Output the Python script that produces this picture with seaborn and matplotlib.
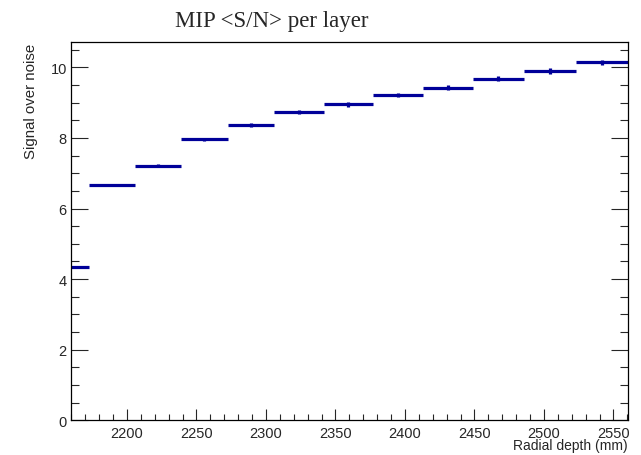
import numpy as np
import matplotlib
matplotlib.use("Agg")
from matplotlib import pyplot as plt
from matplotlib.ticker import MultipleLocator
import seaborn as sns

# layer bin edges (mm) and mean S/N per layer
bin_edges = [2160, 2173, 2205.5, 2238.7, 2272.5, 2306, 2341.6, 2377, 2413, 2449, 2485.6, 2523.2, 2560.4]
sn_values = [4.35, 6.67, 7.21, 7.96, 8.37, 8.73, 8.95, 9.21, 9.42, 9.68, 9.89, 10.14]
sn_errors = [0.03, 0.03, 0.04, 0.05, 0.05, 0.06, 0.06, 0.06, 0.07, 0.07, 0.08, 0.08]

sns.set_style("ticks")
plt.rcParams['font.family'] = ['Liberation Sans', 'DejaVu Sans']

fig = plt.figure(figsize=(6.41, 4.56), dpi=100)
ax = fig.add_axes([71/641, 1 - 421.3/456, (628 - 71)/641, (421.3 - 43.3)/456])

lo = np.array(bin_edges[:-1])
hi = np.array(bin_edges[1:])
centers = (lo + hi) / 2
blue = "#000099"
ax.hlines(sn_values, lo, hi, color=blue, linewidth=2.3)
ax.errorbar(centers, sn_values, yerr=sn_errors, fmt='none', ecolor=blue, elinewidth=2.3, capsize=0)

ax.set_xlim(2159.7, 2560.5)
ax.set_ylim(0, 10.71)

ax.xaxis.set_major_locator(MultipleLocator(50))
ax.xaxis.set_minor_locator(MultipleLocator(10))
ax.yaxis.set_major_locator(MultipleLocator(2))
ax.yaxis.set_minor_locator(MultipleLocator(0.5))

for s in ax.spines.values():
    s.set_linewidth(0.9)
    s.set_color("black")

ax.tick_params(axis='x', which='major', direction='in', length=8, width=0.8, labelsize=10.5, pad=4, top=False)
ax.tick_params(axis='x', which='minor', direction='in', length=4.3, width=0.8, top=False)
ax.tick_params(axis='y', which='major', direction='in', length=12.5, width=0.8, labelsize=10.5, pad=3, right=True)
ax.tick_params(axis='y', which='minor', direction='in', length=5.8, width=0.8, right=True)

ax.set_xlabel("Radial depth (mm)", fontsize=10, loc='right', labelpad=-1)
ax.set_ylabel("Signal over noise", fontsize=10.8, loc='top', labelpad=9)

fig.text(272/641, 1 - 22/456, "MIP <S/N> per layer", family="Liberation Serif",
         fontsize=16.5, ha='center', va='center')

fig.savefig("out.png", dpi=100)
